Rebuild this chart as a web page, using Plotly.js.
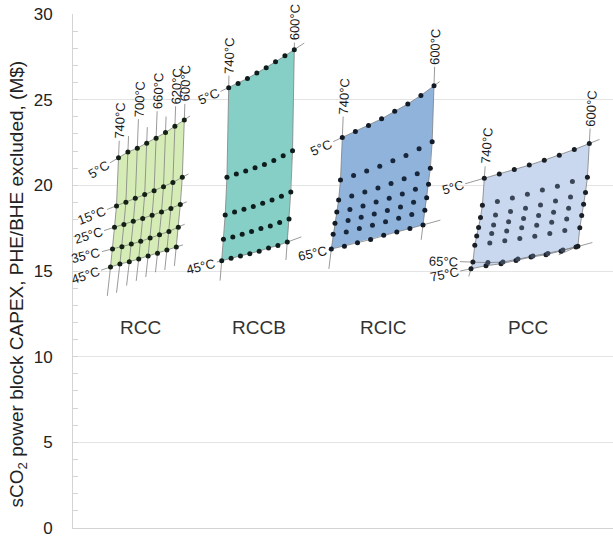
<!DOCTYPE html>
<html><head><meta charset="utf-8">
<script src="https://cdn.plot.ly/plotly-3.0.1.min.js"></script>
<style>html,body{margin:0;padding:0;background:#fff}#chart{width:613px;height:538px}</style>
</head><body><div id="chart"></div>
<script>
// ---------------- DATA ----------------
// Turbine inlet temperatures (carpet lines "a"), same for every cycle
const turbineInletT = [740, 720, 700, 680, 660, 640, 620, 600];
// Cooling (compressor inlet) temperatures (carpet lines "b")
const coolingT_RCC  = [5, 15, 25, 35, 45];
const coolingT_RCCB = [5, 15, 25, 35, 45];
const coolingT_RCIC = [5, 15, 25, 35, 45, 55, 65];
const coolingT_PCC  = [5, 15, 25, 35, 45, 55, 65, 75];
// Power block CAPEX (M$): one row per cooling temperature, columns follow turbineInletT
const capexRCC = [
  [21.61, 21.94, 22.17, 22.46, 22.75, 23.08, 23.45, 23.82],
  [18.80, 19.01, 19.24, 19.46, 19.69, 19.92, 20.17, 20.47],
  [17.55, 17.72, 17.90, 18.07, 18.25, 18.45, 18.65, 18.88],
  [16.28, 16.41, 16.57, 16.73, 16.92, 17.11, 17.31, 17.56],
  [15.23, 15.41, 15.54, 15.70, 15.87, 16.03, 16.22, 16.40]
];
const capexRCCB = [
  [25.70, 25.95, 26.24, 26.55, 26.86, 27.21, 27.56, 27.92],
  [20.47, 20.66, 20.83, 21.03, 21.22, 21.45, 21.73, 22.02],
  [18.27, 18.45, 18.60, 18.76, 18.95, 19.15, 19.36, 19.61],
  [16.86, 16.99, 17.15, 17.30, 17.48, 17.63, 17.83, 18.04],
  [15.60, 15.74, 15.87, 16.01, 16.16, 16.34, 16.49, 16.69]
];
const capexRCIC = [
  [22.79, 23.14, 23.49, 23.88, 24.32, 24.75, 25.25, 25.81],
  [20.31, 20.58, 20.83, 21.12, 21.44, 21.74, 22.13, 22.54],
  [19.15, 19.38, 19.61, 19.84, 20.10, 20.39, 20.68, 20.99],
  [18.45, 18.59, 18.80, 19.03, 19.24, 19.49, 19.77, 20.06],
  [17.79, 17.95, 18.14, 18.33, 18.53, 18.74, 19.01, 19.28],
  [17.15, 17.28, 17.48, 17.67, 17.87, 18.08, 18.30, 18.55],
  [16.28, 16.45, 16.65, 16.84, 17.08, 17.28, 17.48, 17.69]
];
const capexPCC = [
  [20.41, 20.66, 20.93, 21.18, 21.47, 21.76, 22.09, 22.44],
  [18.84, 19.05, 19.26, 19.48, 19.73, 19.94, 20.22, 20.47],
  [18.12, 18.27, 18.47, 18.66, 18.85, 19.09, 19.32, 19.58],
  [17.54, 17.69, 17.87, 18.06, 18.24, 18.43, 18.66, 18.90],
  [17.05, 17.19, 17.34, 17.52, 17.67, 17.85, 18.04, 18.24],
  [16.51, 16.63, 16.76, 16.90, 17.03, 17.19, 17.37, 17.53],
  [15.52, 15.49, 15.52, 15.70, 15.87, 16.02, 16.22, 16.45],
  [15.13, 15.31, 15.42, 15.62, 15.81, 15.95, 16.16, 16.40]
];
const cycleNames = ['RCC', 'RCCB', 'RCIC', 'PCC'];
const yTickVals = [0, 5, 10, 15, 20, 25, 30];

// ---------------- LAYOUT / STYLE ----------------
const W = 613, H = 538, M = {l: 73, r: 0, t: 14, b: 10};
const plotW = W - M.l - M.r, plotH = H - M.t - M.b;
const yMax = 30;
const K = plotH / yMax;            // px per M$
const XR = [M.l, M.l + plotW];     // hidden cheater x axis in px units
const FONT = 'Liberation Sans, Arial, sans-serif';
const LBL = 13;

// placement of each carpet (cheater axis): origin, column spacing, row shift (px)
const cycles = [
  {name: cycleNames[0], b: coolingT_RCC, capex: capexRCC, x0: 118.5, dx: 9.4, sh: 2.0,
   fill: '#d6ecb7', dot: '#142014', inner: '#142014',
   rows: [0, 1, 2, 3, 4], cols: [0, 1, 2, 3, 4, 5, 6, 7],
   extL: {0: 10, 1: 10, 2: 11, 3: 11, 4: 10}, extR: {0: 7, 1: 7, 2: 7, 3: 7, 4: 7},
   extT: {0: 17, 1: 16, 2: 29, 3: 16, 4: 27, 5: 16, 6: 20, 7: 16},
   extB: {0: 29, 1: 29, 2: 24, 3: 22, 4: 21, 5: 19, 6: 20, 7: 19},
   colLab: [0, 2, 4, 6, 7], rowLab: [0, 1, 2, 3, 4], nameX: 140},
  {name: cycleNames[1], b: coolingT_RCCB, capex: capexRCCB, x0: 228.7, dx: 9.37, sh: 1.75,
   fill: '#86cfc7', dot: '#0f1c1c', inner: '#0f1c1c',
   rows: [0, 4], cols: [0, 7],
   extL: {0: 9, 4: 5}, extR: {0: 12, 4: 15}, extT: {0: 12, 7: 7}, extB: {0: 20, 7: 18},
   colLab: [0, 7], rowLab: [0, 4], nameX: 259},
  {name: cycleNames[2], b: coolingT_RCIC, capex: capexRCIC, x0: 342.3, dx: 13.1, sh: 1.83,
   fill: '#8fb3da', dot: '#111a26', inner: '#17263a',
   rows: [0, 6], cols: [0, 7],
   extL: {0: 10, 6: 3}, extR: {0: 7, 6: 18}, extT: {0: 21, 7: 19}, extB: {0: 20, 7: 15},
   colLab: [0, 7], rowLab: [0, 6], nameX: 383},
  {name: cycleNames[3], b: coolingT_PCC, capex: capexPCC, x0: 484.3, dx: 15.0, sh: 1.9,
   fill: '#c9d8ef', dot: '#1a1f26', inner: '#3a4658',
   rows: [0, 6, 7], cols: [0, 7],
   extL: {0: 20, 6: 13, 7: 11}, extR: {0: 11, 6: 0, 7: 17}, extT: {0: 12, 7: 15}, extB: {0: 8, 7: 19},
   colLab: [0, 7], rowLab: [0, 6, 7], nameX: 528}
];
const nameY = 11.7;

// ---------------- BUILD ----------------
function P(c, r, i) { return {X: c.x0 + i * c.dx - r * c.sh, Y: c.capex[r][i] * K}; }
function unit(a, b) { const dx = a.X - b.X, dy = a.Y - b.Y, n = Math.hypot(dx, dy) || 1; return {X: dx / n, Y: dy / n}; }
function add(p, u, L) { return {X: p.X + u.X * L, Y: p.Y + u.Y * L}; }
function ang(u) { return -Math.atan2(u.Y, u.X) * 180 / Math.PI; }
function labW(t) { const d = (t.match(/[0-9]/g) || []).length; return LBL * (0.556 * d + 0.4 + 0.722); }

const traces = [], annotations = [];
cycles.forEach(c => {
  const nR = c.capex.length, nC = turbineInletT.length;
  // fill
  const poly = [];
  for (let i = 0; i < nC; i++) poly.push(P(c, 0, i));
  for (let r = 1; r < nR; r++) poly.push(P(c, r, nC - 1));
  for (let i = nC - 2; i >= 0; i--) poly.push(P(c, nR - 1, i));
  for (let r = nR - 2; r > 0; r--) poly.push(P(c, r, 0));
  traces.push({type: 'scatter', mode: 'lines', x: poly.map(p => p.X), y: poly.map(p => p.Y / K),
    fill: 'toself', fillcolor: c.fill, line: {width: 0}, hoverinfo: 'skip'});
  // row lines (constant cooling temperature)
  c.rows.forEach(r => {
    const pts = turbineInletT.map((_, i) => P(c, r, i));
    const uL = unit(pts[0], pts[1]), uR = unit(pts[nC - 1], pts[nC - 2]);
    const s = add(pts[0], uL, c.extL[r] || 0), e = add(pts[nC - 1], uR, c.extR[r] || 0);
    const all = [s, ...pts, e];
    traces.push({type: 'scatter', mode: 'lines', x: all.map(p => p.X), y: all.map(p => p.Y / K),
      line: {color: '#808080', width: 0.8}, hoverinfo: 'skip'});
    if (c.rowLab.includes(r)) {
      const t = c.b[r] + '°C', w = labW(t);
      const ctr = add(s, uL, w / 2 + 2);
      annotations.push({x: ctr.X, y: ctr.Y / K, xref: 'x', yref: 'y', text: t, showarrow: false,
        textangle: ang({X: -uL.X, Y: -uL.Y}), xanchor: 'center', yanchor: 'middle',
        font: {family: FONT, size: LBL, color: '#1a1a1a'}});
    }
  });
  // column lines (constant turbine inlet temperature)
  c.cols.forEach(i => {
    const pts = c.capex.map((_, r) => P(c, r, i));
    const uT = unit(pts[0], pts[1]), uB = unit(pts[nR - 1], pts[nR - 2]);
    const s = add(pts[0], uT, c.extT[i] || 0), e = add(pts[nR - 1], uB, c.extB[i] || 0);
    const all = [s, ...pts, e];
    traces.push({type: 'scatter', mode: 'lines', x: all.map(p => p.X), y: all.map(p => p.Y / K),
      line: {color: '#808080', width: 0.8}, hoverinfo: 'skip'});
    if (c.colLab.includes(i)) {
      const t = turbineInletT[i] + '°C', w = labW(t);
      const ctr = add(s, uT, w / 2 + 2);
      annotations.push({x: ctr.X, y: ctr.Y / K, xref: 'x', yref: 'y', text: t, showarrow: false,
        textangle: ang(uT), xanchor: 'center', yanchor: 'middle',
        font: {family: FONT, size: LBL, color: '#1a1a1a'}});
    }
  });
  // points
  const bx = [], by = [], ix = [], iy = [];
  for (let r = 0; r < nR; r++) for (let i = 0; i < nC; i++) {
    const p = P(c, r, i);
    const edge = r === 0 || r === nR - 1 || i === 0 || i === nC - 1;
    (edge ? bx : ix).push(p.X); (edge ? by : iy).push(p.Y / K);
  }
  traces.push({type: 'scatter', mode: 'markers', x: bx, y: by, marker: {size: 5, color: c.dot}, hoverinfo: 'skip'});
  traces.push({type: 'scatter', mode: 'markers', x: ix, y: iy, marker: {size: 5, color: c.inner}, hoverinfo: 'skip'});
  annotations.push({x: c.nameX, y: nameY, xref: 'x', yref: 'y', text: c.name, showarrow: false,
    xanchor: 'center', yanchor: 'middle', font: {family: FONT, size: 19, color: '#333333'}});
});

const layout = {
  width: W, height: H, margin: M, showlegend: false,
  paper_bgcolor: '#ffffff', plot_bgcolor: '#ffffff',
  font: {family: FONT, color: '#222222'},
  xaxis: {range: XR, showgrid: false, zeroline: false, showticklabels: false, ticks: '',
    showline: true, linecolor: '#d4d4d4', linewidth: 1, fixedrange: true},
  yaxis: {range: [0, yMax], tickvals: yTickVals, showgrid: true, gridcolor: '#e4e4e4', zeroline: false,
    showline: true, linecolor: '#d4d4d4', linewidth: 1, ticks: 'inside', ticklen: 5, tickcolor: '#d4d4d4',
    minor: {dtick: 1, ticks: 'inside', ticklen: 5, tickcolor: '#d4d4d4', showgrid: false},
    tickfont: {family: FONT, size: 17, color: '#222222'}, ticklabelstandoff: 16, ticklabeloverflow: 'allow',
    title: {text: 'sCO<sub>2</sub> power block CAPEX, PHE/BHE excluded, (M$)&nbsp;&nbsp;&nbsp;&nbsp;&nbsp;',
      font: {family: FONT, size: 19, color: '#222222'}, standoff: 5},
    fixedrange: true},
  annotations: annotations
};
Plotly.newPlot('chart', traces, layout, {staticPlot: true, displayModeBar: false});
</script></body></html>
